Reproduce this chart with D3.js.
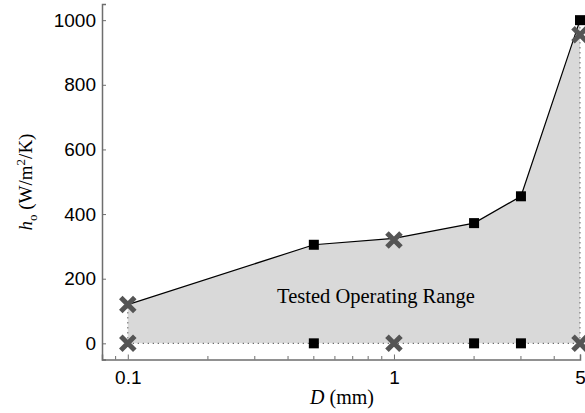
<!DOCTYPE html>
<html>
<head>
<meta charset="utf-8">
<script src="https://cdn.jsdelivr.net/npm/d3@7"></script>
<style>
  html, body { margin: 0; padding: 0; background: #fff; }
  svg { display: block; }
</style>
</head>
<body>
<svg id="chart" width="585" height="413"></svg>
<script>
// Upper boundary of the tested range (line vertices)
const boundaryD = [0.1, 0.5, 1, 2, 3, 5];
const boundaryH = [120, 305, 325, 372, 455, 1000];

// Square markers (upper and lower)
const squareD = [0.5, 2, 3, 5, 0.5, 2, 3];
const squareH = [305, 372, 455, 1000, 0, 0, 0];

// Cross markers (upper and lower)
const crossD = [0.1, 1, 5, 0.1, 1, 5];
const crossH = [120, 320, 955, 0, 0, 0];

const xTickLabels = [0.1, 1, 5];
const xMinorTicks = [0.09, 0.2, 0.3, 0.4, 0.5, 0.6, 0.7, 0.8, 0.9, 2, 3, 4];
const yTickLabels = [0, 200, 400, 600, 800, 1000];

const svg = d3.select("#chart");
const x = d3.scaleLog().domain([0.08, 5]).range([102, 580]);
const y = d3.scaleLinear().domain([-50, 1050]).range([359.5, 4]);
const axisColor = "#6e6e6e";
const sans = "Liberation Sans, Arial, sans-serif";
const serif = "Liberation Serif, Times New Roman, serif";

// Shaded operating range
const poly = [[0.1, 0]].concat(boundaryD.map((d, i) => [d, boundaryH[i]])).concat([[5, 0]]);
svg.append("path")
  .attr("d", d3.line().x(d => x(d[0])).y(d => y(d[1]))(poly) + "Z")
  .attr("fill", "#d9d9d9")
  .attr("stroke", "none");

// Dotted edges of the range
const dotted = [
  [[0.1, 0], [5, 0]],
  [[0.1, 0], [0.1, 120]],
  [[5, 0], [5, 1000]]
];
dotted.forEach(seg => {
  svg.append("path")
    .attr("d", d3.line().x(d => x(d[0])).y(d => y(d[1]))(seg))
    .attr("fill", "none")
    .attr("stroke", "#222")
    .attr("stroke-width", 1)
    .attr("stroke-dasharray", "1,4");
});

// Upper boundary line
svg.append("path")
  .attr("d", d3.line().x(d => x(d)).y((d, i) => y(boundaryH[i]))(boundaryD))
  .attr("fill", "none")
  .attr("stroke", "#000")
  .attr("stroke-width", 1.2);

// Axes
const xAxis = d3.axisBottom(x).tickValues(xTickLabels).tickSize(-5).tickPadding(11)
  .tickFormat(d3.format("~g"));
const gx = svg.append("g").attr("transform", `translate(0,${y(-50)})`).call(xAxis);
gx.select(".domain").attr("stroke", axisColor).attr("stroke-width", 1.5);
gx.selectAll(".tick line").attr("stroke", axisColor);
gx.selectAll(".tick text").attr("font-family", sans)
  .attr("font-size", 19).attr("fill", "#000");
gx.selectAll(".minor").data(xMinorTicks).enter().append("line")
  .attr("x1", d => x(d)).attr("x2", d => x(d)).attr("y1", 0).attr("y2", -3.5)
  .attr("stroke", axisColor);

const yAxis = d3.axisLeft(y).tickValues(yTickLabels).tickSize(-4).tickPadding(6)
  .tickFormat(d3.format("d"));
const gy = svg.append("g").attr("transform", `translate(${x(0.08)},0)`).call(yAxis);
gy.select(".domain").attr("stroke", axisColor).attr("stroke-width", 1.5);
gy.selectAll(".tick line").attr("stroke", axisColor);
gy.selectAll(".tick text").attr("font-family", sans)
  .attr("font-size", 19).attr("fill", "#000");

// Square markers
svg.selectAll(".sq").data(squareD).enter().append("rect")
  .attr("x", d => x(d) - 5).attr("y", (d, i) => y(squareH[i]) - 5)
  .attr("width", 10).attr("height", 10).attr("fill", "#000");

// Cross markers
const cr = 7;
svg.selectAll(".cr").data(crossD).enter().append("path")
  .attr("d", (d, i) => {
    const cx = x(d), cy = y(crossH[i]);
    return `M${cx - cr},${cy - cr}L${cx + cr},${cy + cr}M${cx - cr},${cy + cr}L${cx + cr},${cy - cr}`;
  })
  .attr("stroke", "#555").attr("stroke-width", 5).attr("fill", "none");

// Annotation
svg.append("text").attr("x", 376).attr("y", 303).attr("text-anchor", "middle")
  .attr("font-family", serif).attr("font-size", 20.5)
  .text("Tested Operating Range");

// Axis titles
const xt = svg.append("text").attr("x", 342).attr("y", 404).attr("text-anchor", "middle")
  .attr("font-family", serif).attr("font-size", 20);
xt.append("tspan").attr("font-style", "italic").text("D");
xt.append("tspan").text(" (mm)");

const yt = svg.append("text").attr("transform", "translate(32,182) rotate(-90)")
  .attr("text-anchor", "middle")
  .attr("font-family", serif).attr("font-size", 19);
yt.append("tspan").attr("font-style", "italic").text("h");
yt.append("tspan").attr("font-size", 13).attr("dy", 5).text("o");
yt.append("tspan").attr("dy", -5).text(" (W/m");
yt.append("tspan").attr("font-size", 13).attr("dy", -7).text("2");
yt.append("tspan").attr("dy", 7).text("/K)");
</script>
</body>
</html>
